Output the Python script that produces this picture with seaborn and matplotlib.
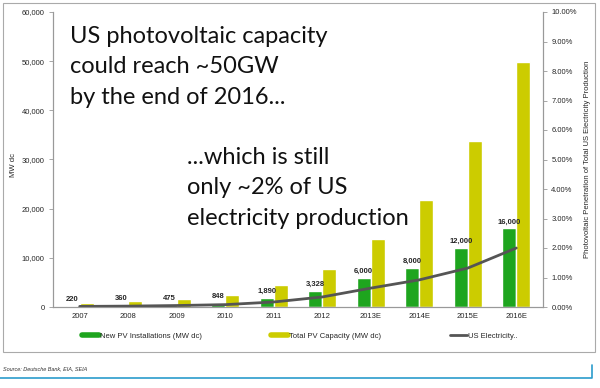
import matplotlib
matplotlib.use("Agg")
import matplotlib.pyplot as plt
from matplotlib.lines import Line2D
from matplotlib.patches import Rectangle
import seaborn as sns
import numpy as np
import pandas as pd

years = ["2007", "2008", "2009", "2010", "2011", "2012", "2013E", "2014E", "2015E", "2016E"]
new_pv = [220, 360, 475, 848, 1890, 3328, 6000, 8000, 12000, 16000]
total_pv = [830, 1190, 1665, 2513, 4403, 7731, 13731, 21731, 33731, 49731]
us_share = [0.02, 0.03, 0.05, 0.08, 0.17, 0.34, 0.64, 0.92, 1.32, 2.0]
bar_labels = ["220", "360", "475", "848", "1,890", "3,328", "6,000", "8,000", "12,000", "16,000"]

GREEN = "#1ea51e"
YELLOW = "#cccc00"
LINE = "#555555"
GRID = "#999999"

sns.set_style("white")
plt.rcParams["font.family"] = ["Liberation Sans", "DejaVu Sans"]

df = pd.DataFrame({"year": years, "New PV Installations (MW dc)": new_pv,
                   "Total PV Capacity (MW dc)": total_pv})
long_df = df.melt(id_vars="year", var_name="series", value_name="MW")

fig = plt.figure(figsize=(6, 3.88), dpi=100)
W, H = 600, 388
ax = fig.add_axes([53 / W, 1 - 307 / H, (543 - 53) / W, (307 - 12) / H])

sns.barplot(data=long_df, x="year", y="MW", hue="series", palette=[GREEN, YELLOW],
            width=0.58, saturation=1, ax=ax, legend=False)
ax.bar_label(ax.containers[0], labels=bar_labels, fontsize=5.5, fontweight="bold", padding=2)

ax.set_ylim(0, 60000)
ax.set_xlim(-0.55, 9.55)
ax.set_yticks(range(0, 60001, 10000))
ax.set_yticklabels([f"{v:,}" for v in range(0, 60001, 10000)])
ax.set_xlabel("")
ax.set_ylabel("MW dc", fontsize=5.5)
ax.yaxis.set_label_coords(-0.073, 0.48)
ax.set_xticks(np.arange(0.5, 9.5, 1), minor=True)
ax.tick_params(axis="x", which="major", length=0, labelsize=5.5, pad=4)
ax.tick_params(axis="x", which="minor", length=2, color=GRID, width=0.6)
ax.tick_params(axis="y", length=3, color=GRID, width=0.6, labelsize=5.5, pad=3)

ax2 = ax.twinx()
sns.lineplot(x=np.arange(len(years)), y=us_share, color=LINE, linewidth=2, ax=ax2)
ax2.set_ylim(0, 10)
ax2.set_yticks(range(0, 11))
ax2.set_yticklabels([f"{v:.2f}%" for v in range(0, 11)])
ax2.set_ylabel("Photovoltaic Penetration of Total US Electricity Production", fontsize=5.5, labelpad=5)
ax2.tick_params(axis="y", length=3, color=GRID, width=0.6, labelsize=5.5, pad=3)

for a in (ax, ax2):
    a.spines["top"].set_visible(False)
    for s in ("left", "right", "bottom"):
        a.spines[s].set_color(GRID)
        a.spines[s].set_linewidth(0.8)

handles = [Line2D([], [], color=GREEN, lw=4),
           Line2D([], [], color=YELLOW, lw=4),
           Line2D([], [], color=LINE, lw=2)]
fig.legend(handles, ["New PV Installations (MW dc)", "Total PV Capacity (MW dc)", "US Electricity.."],
           loc="center", bbox_to_anchor=(0.5, 1 - 336 / H), ncol=3, frameon=False,
           fontsize=5.5, handlelength=2.2, handletextpad=0.2, columnspacing=9)

big = ["Lato", "DejaVu Sans"]
fig.text(70 / W, 1 - 26 / H, "US photovoltaic capacity\ncould reach ~50GW\nby the end of 2016...",
         family=big, fontsize=17, va="top", ha="left", linespacing=1.55, color="#111111")
fig.text(187 / W, 1 - 147 / H, "...which is still\nonly ~2% of US\nelectricity production",
         family=big, fontsize=17, va="top", ha="left", linespacing=1.55, color="#111111")

fig.patches.append(Rectangle((3 / W, 1 - 352 / H), 592 / W, 349 / H, transform=fig.transFigure,
                             fill=False, edgecolor="#aaaaaa", linewidth=0.8))
fig.text(3 / W, 1 - 369 / H, "Source: Deutsche Bank, EIA, SEIA", fontsize=4, style="italic",
         va="center", ha="left", color="#333333")
fig.lines.append(Line2D([0, 592 / W, 592 / W], [1 - 378 / H, 1 - 378 / H, 1 - 365 / H],
                        transform=fig.transFigure, color="#2b9ccc", linewidth=1.2))

fig.savefig("out.png", dpi=100)
